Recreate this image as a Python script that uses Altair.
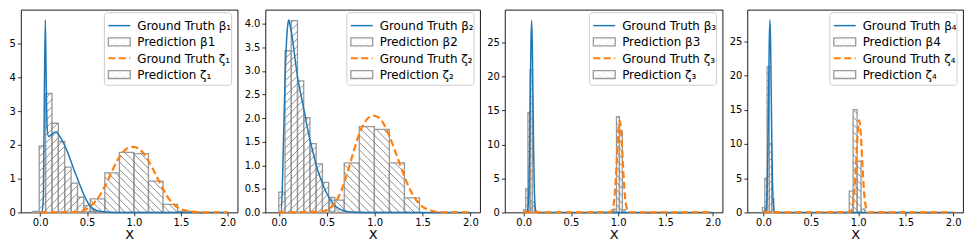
import math
import altair as alt
import pandas as pd

# ---------------- data ----------------
X_TICKS = [0.0, 0.5, 1.0, 1.5, 2.0]

# Panel 1
p1_beta_edges = [-0.08, -0.01, 0.058, 0.126, 0.194, 0.262, 0.33, 0.398, 0.466, 0.534, 0.602]
p1_beta_heights = [0.03, 1.97, 3.52, 2.64, 2.10, 1.34, 0.87, 0.45, 0.20, 0.04]
p1_zeta_edges = [0.378, 0.535, 0.69, 0.845, 1.0, 1.155, 1.31, 1.465, 1.62]
p1_zeta_heights = [0.02, 0.40, 1.17, 1.78, 1.74, 0.93, 0.24, 0.03]
p1_beta_curve_x = [0.0, 0.02, 0.035, 0.045, 0.055, 0.065, 0.075, 0.09, 0.12, 0.165, 0.22, 0.29,
                   0.36, 0.415, 0.47, 0.54, 0.61, 0.70, 0.80, 2.0]
p1_beta_curve_y = [0.0, 0.0, 0.5, 3.5, 5.7, 3.8, 2.5, 2.25, 2.3, 2.38, 2.2, 1.8,
                   1.27, 0.88, 0.5, 0.17, 0.05, 0.01, 0.0, 0.0]
p1_zeta_curve_x = [0.0, 0.40, 0.47, 0.53, 0.58, 0.63, 0.68, 0.73, 0.78, 0.83, 0.88, 0.93, 0.99,
                   1.05, 1.10, 1.15, 1.20, 1.25, 1.30, 1.35, 1.40, 1.46, 1.52, 1.58, 1.65, 1.75, 2.0]
p1_zeta_curve_y = [0.0, 0.02, 0.07, 0.17, 0.30, 0.48, 0.72, 1.0, 1.3, 1.57, 1.78, 1.9, 1.94,
                   1.89, 1.76, 1.55, 1.30, 1.02, 0.75, 0.50, 0.31, 0.16, 0.08, 0.04, 0.015, 0.003, 0.0]

# Panel 2
p2_beta_edges = [0.0, 0.065, 0.13, 0.195, 0.26, 0.325, 0.39, 0.455, 0.52, 0.585]
p2_beta_heights = [0.43, 3.43, 4.07, 2.79, 2.01, 1.46, 1.03, 0.64, 0.32]
p2_zeta_edges = [0.526, 0.683, 0.84, 0.997, 1.154, 1.311, 1.468]
p2_zeta_heights = [0.26, 1.05, 1.82, 1.76, 1.05, 0.31]
p2_beta_curve_x = [0.0, 0.02, 0.035, 0.05, 0.065, 0.08, 0.095, 0.105, 0.12, 0.145, 0.17, 0.20,
                   0.235, 0.27, 0.30, 0.335, 0.37, 0.405, 0.44, 0.475, 0.51, 0.545, 0.58, 0.62,
                   0.67, 0.75, 0.85, 2.0]
p2_beta_curve_y = [0.0, 0.0, 0.4, 1.6, 2.8, 3.6, 4.0, 4.08, 3.95, 3.65, 3.25, 2.82,
                   2.45, 2.1, 1.78, 1.46, 1.17, 0.9, 0.7, 0.52, 0.37, 0.25, 0.16, 0.09,
                   0.04, 0.01, 0.0, 0.0]
p2_zeta_curve_x = [0.0, 0.45, 0.50, 0.55, 0.60, 0.65, 0.70, 0.75, 0.80, 0.85, 0.90, 0.95, 1.0,
                   1.05, 1.10, 1.15, 1.20, 1.25, 1.30, 1.35, 1.40, 1.45, 1.50, 1.56, 1.63, 1.72, 2.0]
p2_zeta_curve_y = [0.0, 0.02, 0.05, 0.11, 0.24, 0.45, 0.74, 1.08, 1.42, 1.72, 1.92, 2.03, 2.05,
                   2.0, 1.86, 1.64, 1.38, 1.1, 0.82, 0.57, 0.37, 0.22, 0.12, 0.06, 0.02, 0.005, 0.0]

# Panel 3
p3_beta_edges = [-0.003, 0.021, 0.044, 0.067, 0.09, 0.113, 0.136]
p3_beta_heights = [0.4, 3.5, 14.7, 21.0, 1.5, 0.2]
p3_zeta_edges = [0.95, 0.982, 1.013, 1.044, 1.075]
p3_zeta_heights = [0.5, 14.1, 12.0, 0.4]
p3_beta_curve_x = [0.0, 0.03, 0.045, 0.055, 0.062, 0.069, 0.076, 0.083, 0.09, 0.097, 0.104,
                   0.111, 0.121, 0.136, 0.2, 2.0]
p3_beta_curve_y = [0.0, 0.03, 0.76, 3.97, 9.4, 17.3, 24.9, 28.2, 24.9, 17.3, 9.4,
                   3.97, 0.76, 0.03, 0.0, 0.0]
p3_zeta_curve_x = [0.0, 0.92, 0.95, 0.97, 0.985, 1.0, 1.017, 1.034, 1.05, 1.065, 1.085, 1.115, 1.2, 2.0]
p3_zeta_curve_y = [0.0, 0.06, 1.05, 3.83, 7.5, 11.4, 13.45, 11.4, 7.2, 3.6, 0.97, 0.06, 0.0, 0.0]

# Panel 4
p4_beta_edges = [-0.01, 0.014, 0.038, 0.062, 0.086, 0.11]
p4_beta_heights = [0.7, 5.0, 21.3, 10.1, 2.0]
p4_zeta_edges = [0.905, 0.946, 0.988, 1.029, 1.07]
p4_zeta_heights = [3.1, 15.0, 7.5, 0.5]
p4_beta_curve_x = [0.0, 0.015, 0.03, 0.04, 0.047, 0.054, 0.061, 0.068, 0.075, 0.082, 0.089,
                   0.096, 0.106, 0.121, 0.2, 2.0]
p4_beta_curve_y = [0.0, 0.03, 0.76, 3.96, 9.4, 17.2, 24.8, 28.1, 24.8, 17.2, 9.4,
                   3.96, 0.76, 0.03, 0.0, 0.0]
p4_zeta_curve_x = [0.0, 0.913, 0.943, 0.963, 0.978, 0.993, 1.01, 1.027, 1.043, 1.058, 1.078, 1.108, 1.2, 2.0]
p4_zeta_curve_y = [0.0, 0.06, 1.05, 3.83, 7.5, 11.4, 13.45, 11.4, 7.2, 3.6, 0.97, 0.06, 0.0, 0.0]

LEGEND_LABELS = [
    ["Ground Truth β₁", "Prediction β1", "Ground Truth ζ₁", "Prediction ζ₁"],
    ["Ground Truth β₂", "Prediction β2", "Ground Truth ζ₂", "Prediction ζ₂"],
    ["Ground Truth β₃", "Prediction β3", "Ground Truth ζ₃", "Prediction ζ₃"],
    ["Ground Truth β₄", "Prediction β4", "Ground Truth ζ₄", "Prediction ζ₄"],
]

# ---------------- layout / style ----------------
HEIGHT = 204
PANELS = [
    dict(W=218, xdom=(-0.205, 2.105), ymax=6.0, yticks=[0, 1, 2, 3, 4, 5], yfmt="d",
         be=p1_beta_edges, bh=p1_beta_heights, ze=p1_zeta_edges, zh=p1_zeta_heights,
         bcx=p1_beta_curve_x, bcy=p1_beta_curve_y, zcx=p1_zeta_curve_x, zcy=p1_zeta_curve_y),
    dict(W=216, xdom=(-0.14, 2.10), ymax=4.3, yticks=[0, 0.5, 1, 1.5, 2, 2.5, 3, 3.5, 4], yfmt=".1f",
         be=p2_beta_edges, bh=p2_beta_heights, ze=p2_zeta_edges, zh=p2_zeta_heights,
         bcx=p2_beta_curve_x, bcy=p2_beta_curve_y, zcx=p2_zeta_curve_x, zcy=p2_zeta_curve_y),
    dict(W=219, xdom=(-0.20, 2.105), ymax=29.8, yticks=[0, 5, 10, 15, 20, 25], yfmt="d",
         be=p3_beta_edges, bh=p3_beta_heights, ze=p3_zeta_edges, zh=p3_zeta_heights,
         bcx=p3_beta_curve_x, bcy=p3_beta_curve_y, zcx=p3_zeta_curve_x, zcy=p3_zeta_curve_y),
    dict(W=217, xdom=(-0.17, 2.105), ymax=29.6, yticks=[0, 5, 10, 15, 20, 25], yfmt="d",
         be=p4_beta_edges, bh=p4_beta_heights, ze=p4_zeta_edges, zh=p4_zeta_heights,
         bcx=p4_beta_curve_x, bcy=p4_beta_curve_y, zcx=p4_zeta_curve_x, zcy=p4_zeta_curve_y),
]

BLUE = "#1f77b4"
ORANGE = "#ff7f0e"
EDGE = "#9a9a9a"
HATCH = "#7f7f7f"
HATCH_SP = 7.5
FONT = "DejaVu Sans"


def hatch(u0, u1, v0, v1, direction, sp):
    """Hatch segments of a pixel rectangle (u right, v up)."""
    segs = []
    if direction == "/":
        cmin, cmax = v0 - u1, v1 - u0
        for k in range(math.ceil(cmin / sp), math.floor(cmax / sp) + 1):
            c = k * sp
            ua, ub = max(u0, v0 - c), min(u1, v1 - c)
            if ub - ua > 0.3:
                segs.append((ua, ua + c, ub, ub + c))
    else:
        cmin, cmax = u0 + v0, u1 + v1
        for k in range(math.ceil(cmin / sp), math.floor(cmax / sp) + 1):
            c = k * sp
            ua, ub = max(u0, c - v1), min(u1, c - v0)
            if ub - ua > 0.3:
                segs.append((ua, c - ua, ub, c - ub))
    return segs


def make_panel(i):
    p = PANELS[i]
    W = p["W"]
    x0d, x1d = p["xdom"]
    ymax = p["ymax"]
    sx = W / (x1d - x0d)
    sy = HEIGHT / ymax

    def to_data(u, v):
        return x0d + u / sx, v / sy

    xs = alt.Scale(domain=[x0d, x1d], nice=False, zero=False)
    ys = alt.Scale(domain=[0, ymax], nice=False, zero=False)
    xax = alt.Axis(values=X_TICKS, format=".1f", title="X")
    yax = alt.Axis(values=p["yticks"], format=p["yfmt"], title=None)

    bars, hlines = [], []
    for edges, heights, d in ((p["be"], p["bh"], "/"), (p["ze"], p["zh"], "\\")):
        for j, h in enumerate(heights):
            bars.append(dict(x=edges[j], x2=edges[j + 1], y=0.0, y2=h))
            u0, u1 = (edges[j] - x0d) * sx, (edges[j + 1] - x0d) * sx
            for (ua, va, ub, vb) in hatch(u0, u1, 0.0, h * sy, d, HATCH_SP):
                xa, ya = to_data(ua, va)
                xb, yb = to_data(ub, vb)
                hlines.append(dict(x=xa, y=ya, x2=xb, y2=yb))

    # legend geometry (pixels, y down from plot top)
    bw, bh = 128, 73
    bl = W - 6 - bw
    bt = 3
    rows = [bt + 13 + k * 16.4 for k in range(4)]
    sl, sr = bl + 4, bl + 26
    for k, d in ((1, "/"), (3, "\\")):
        top, bot = rows[k] - 4, rows[k] + 4
        for (ua, va, ub, vb) in hatch(sl, sr, HEIGHT - bot, HEIGHT - top, d, HATCH_SP):
            xa, ya = to_data(ua, va)
            xb, yb = to_data(ub, vb)
            hlines.append(dict(x=xa, y=ya, x2=xb, y2=yb))

    bars_df = pd.DataFrame(bars)
    hl_df = pd.DataFrame(hlines)
    bcurve = pd.DataFrame({"x": p["bcx"], "y": p["bcy"]})
    zcurve = pd.DataFrame({"x": p["zcx"], "y": p["zcy"]})

    rect_layer = alt.Chart(bars_df).mark_rect(fill="white", fillOpacity=0, stroke=EDGE, strokeWidth=1.3).encode(
        x=alt.X("x:Q", scale=xs, axis=xax), x2="x2:Q",
        y=alt.Y("y:Q", scale=ys, axis=yax), y2="y2:Q")
    hatch_layer = alt.Chart(hl_df).mark_rule(stroke=HATCH, strokeWidth=0.9).encode(
        x=alt.X("x:Q", scale=xs, axis=xax), x2="x2:Q",
        y=alt.Y("y:Q", scale=ys, axis=yax), y2="y2:Q")
    bline = alt.Chart(bcurve).mark_line(color=BLUE, strokeWidth=1.5, interpolate="monotone").encode(
        x=alt.X("x:Q", scale=xs, axis=xax), y=alt.Y("y:Q", scale=ys, axis=yax))
    zline = alt.Chart(zcurve).mark_line(color=ORANGE, strokeWidth=2.2, strokeDash=[7, 3.5],
                                         interpolate="monotone").encode(
        x=alt.X("x:Q", scale=xs, axis=xax), y=alt.Y("y:Q", scale=ys, axis=yax))

    one = pd.DataFrame({"a": [0]})
    legend_box = alt.Chart(one).mark_rect(fill="white", fillOpacity=0.85, stroke="#cccccc",
                                          strokeWidth=1, cornerRadius=3).encode(
        x=alt.value(bl), x2=alt.value(bl + bw), y=alt.value(bt), y2=alt.value(bt + bh))
    leg_b = alt.Chart(one).mark_rule(color=BLUE, strokeWidth=1.5).encode(
        x=alt.value(sl), x2=alt.value(sr), y=alt.value(rows[0]))
    leg_z = alt.Chart(one).mark_rule(color=ORANGE, strokeWidth=2.2, strokeDash=[7, 3.5]).encode(
        x=alt.value(sl), x2=alt.value(sr), y=alt.value(rows[2]))
    leg_rects = [
        alt.Chart(one).mark_rect(fill="white", fillOpacity=0, stroke=EDGE, strokeWidth=1.3).encode(
            x=alt.value(sl), x2=alt.value(sr), y=alt.value(rows[k] - 4), y2=alt.value(rows[k] + 4))
        for k in (1, 3)
    ]
    leg_texts = [
        alt.Chart(one).mark_text(text=LEGEND_LABELS[i][k], align="left", baseline="middle",
                                 font=FONT, fontSize=12, color="black").encode(
            x=alt.value(bl + 33), y=alt.value(rows[k] + 0.5))
        for k in range(4)
    ]

    return alt.layer(rect_layer, hatch_layer, bline, zline, legend_box, *leg_rects,
                     leg_b, leg_z, *leg_texts).properties(width=W, height=HEIGHT)


chart = alt.hconcat(*[make_panel(i) for i in range(4)], spacing=5).properties(
    padding={"left": 0, "top": 0, "right": 0, "bottom": 0},
    background="white",
).configure_view(stroke="black", strokeWidth=0.9).configure_axis(
    labelFont=FONT, labelFontSize=10, labelColor="black", tickColor="black",
    tickSize=3.5, tickWidth=0.8, labelPadding=2, domain=False, grid=False,
    titleFont=FONT, titleFontSize=13, titleFontWeight="normal", titleColor="black",
    titlePadding=1,
)

chart.save("out.html", embed_options={"renderer": "svg", "actions": False})
